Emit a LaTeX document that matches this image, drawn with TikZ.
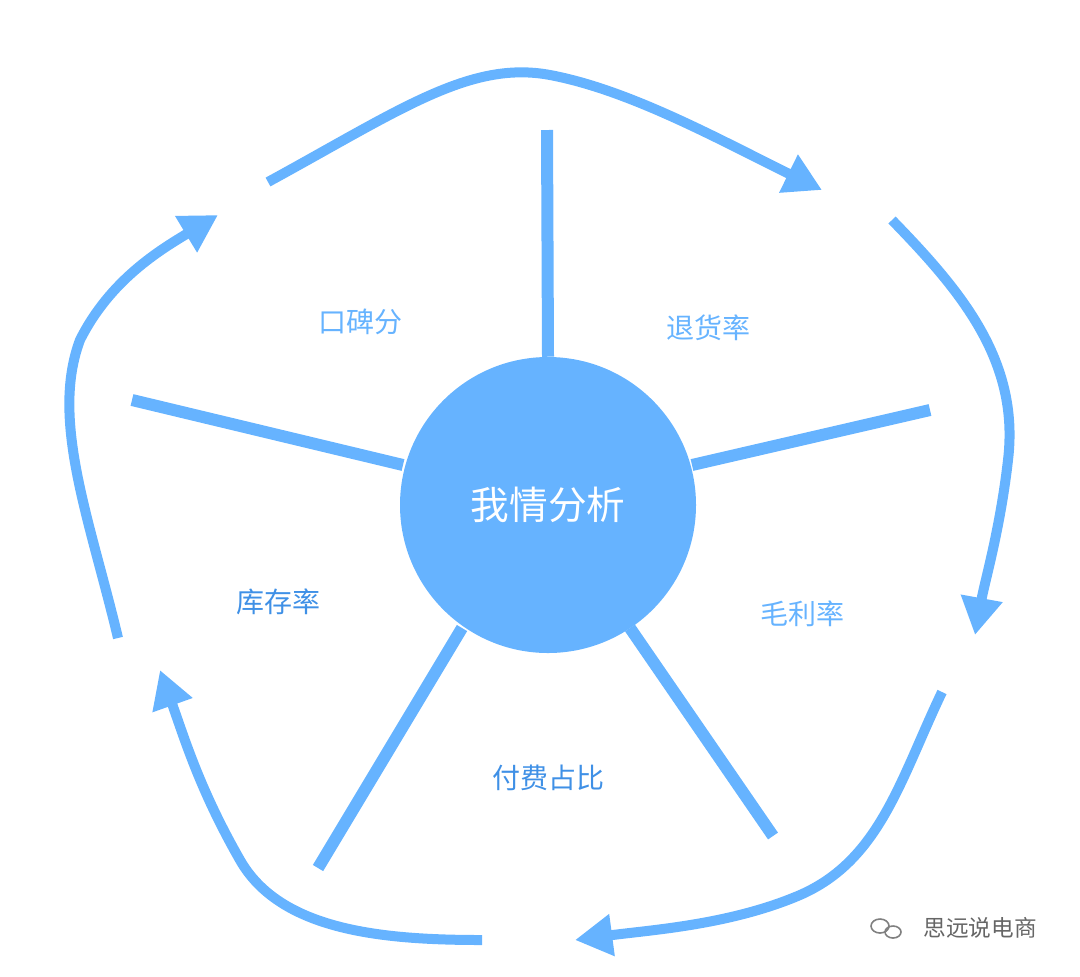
\documentclass[tikz,border=0pt]{standalone}
\usepackage{fontspec}
\setmainfont{Noto Sans CJK SC}
\usetikzlibrary{arrows.meta}
\definecolor{lb}{HTML}{66B3FF}
\definecolor{db}{HTML}{3F90E6}
\begin{document}
\begin{tikzpicture}[x=0.75pt,y=-0.75pt,
  spoke/.style={line width=9pt,lb},
  cyc/.style={line width=7.5pt,lb,-{Triangle[length=28pt,width=30pt]}},
  lab/.style={font=\fontsize{21}{24}\selectfont}]
\useasboundingbox (0,0) rectangle (1080,976);
\node[circle,fill=lb,minimum size=222pt,inner sep=0] (c) at (548,505) {};
\node[white,font=\fontsize{29}{32}\selectfont] (ct) at (548,505) {我情分析};
\coordinate (s1) at (547,130); \coordinate (s2) at (930,410);
\coordinate (s3) at (132,400); \coordinate (s4) at (318,868); \coordinate (s5) at (773,836);
\draw[spoke] (c.north) -- (s1);
\draw[spoke] (c) ++(-13:148) coordinate (e2); \draw[spoke] (692,465) -- (s2);
\draw[spoke] (403,465) -- (s3);
\draw[spoke] (462,628) -- (s4);
\draw[spoke] (630,628) -- (s5);
\node[lab,lb] (l1) at (360,322) {口碑分};
\node[lab,lb] (l2) at (708,328) {退货率};
\node[lab,lb] (l3) at (802,614) {毛利率};
\node[lab,db] (l4) at (548,778) {付费占比};
\node[lab,db] (l5) at (278,602) {库存率};
\draw[cyc] (268,182) .. controls (400,110) and (470,60) .. (550,75) .. controls (630,90) and (720,140) .. (822,190);
\draw[cyc] (892,220) .. controls (960,290) and (1020,360) .. (1008,460) .. controls (1000,530) and (985,580) .. (975,635);
\draw[cyc] (942,692) .. controls (900,780) and (880,860) .. (800,895) .. controls (730,925) and (650,930) .. (575,940);
\draw[cyc] (482,940) .. controls (380,940) and (280,930) .. (240,860) .. controls (200,790) and (185,740) .. (160,670);
\draw[cyc] (118,638) .. controls (90,520) and (50,420) .. (80,340) .. controls (110,280) and (160,250) .. (218,215);
\node[gray!80!black,font=\fontsize{17}{20}\selectfont] (wm) at (980,928) {思远说电商};
\draw[gray,line width=1.2pt] (880,926) ellipse (9 and 7);
\draw[gray,line width=1.2pt] (893,932) ellipse (8 and 6);
\end{tikzpicture}
\end{document}
